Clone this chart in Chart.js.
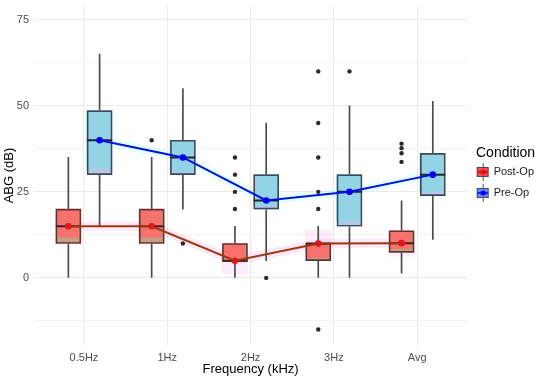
<!DOCTYPE html>
<html>
<head>
<meta charset="utf-8">
<script src="https://cdn.jsdelivr.net/npm/chart.js@4.4.1/dist/chart.umd.min.js"></script>
<style>
html,body{margin:0;padding:0;background:#fff;}
#wrap{width:550px;height:377px;}
</style>
</head>
<body>
<div id="wrap"><canvas id="c" width="550" height="377"></canvas></div>
<script>
// ---- data ----
const categories = ['0.5Hz', '1Hz', '2Hz', '3Hz', 'Avg'];
const yTickValues = [-12.5, 0, 12.5, 25, 37.5, 50, 62.5, 75];

const postLow  = [0, 0, 0, 0, 1.4];
const postQ1   = [10, 10, 4.8, 5, 7.4];
const postMed  = [15, 15, 5, 10, 10.1];
const postQ3   = [20, 20, 10, 10, 13.7];
const postHigh = [35, 35, 15, 15, 22.4];
const postTrend = [15, 15, 5, 10, 10.1];
const postOutliers = [[], [40], [35, 30, 25, 20], [60, 45, 35, 25, 20, -15], [39, 37.7, 36.2, 33.7]];

const preLow  = [15, 20, 5, 0, 11.2];
const preQ1   = [30, 30, 20, 15, 23.9];
const preMed  = [40, 35, 22.5, 25, 30];
const preQ3   = [48.6, 40, 30, 30, 36.2];
const preHigh = [65, 55, 45, 50, 51.3];
const preTrend = [40, 35, 22.5, 25, 30];
const preOutliers = [[], [10], [0], [60], []];

// ---- layout / style ----
const DODGE = 0.1875;
const FONT = "'Liberation Sans', Arial, sans-serif";
const xOf = (i, g) => i + (g === 'post' ? -DODGE : DODGE);

function ranges(lo, hi, g) { return lo.map((v, i) => ({x: xOf(i, g), y: [v, hi[i]]})); }
function overlay(lo, hi, g, frac) { return lo.map((v, i) => ({x: xOf(i, g) - 0.01, y: [v + (hi[i] - v) * frac, hi[i]]})); }
function pts(vals, g) { return vals.map((v, i) => ({x: xOf(i, g), y: v})); }
function outl(list, g) { const r = []; list.forEach((arr, i) => arr.forEach(v => r.push({x: xOf(i, g), y: v}))); return r; }

function glyph(fill, line, dot) {
  const c = document.createElement('canvas');
  c.width = 14; c.height = 18;
  const g = c.getContext('2d');
  g.strokeStyle = '#555'; g.lineWidth = 1;
  g.beginPath(); g.moveTo(7.5, 0); g.lineTo(7.5, 18); g.stroke();
  g.fillStyle = fill; g.fillRect(1, 4, 12, 10);
  g.strokeStyle = '#444'; g.strokeRect(1.5, 4.5, 11, 9);
  g.strokeStyle = line; g.lineWidth = 2;
  g.beginPath(); g.moveTo(1, 9); g.lineTo(13, 9); g.stroke();
  g.fillStyle = dot; g.beginPath(); g.arc(7.5, 9, 2.6, 0, Math.PI * 2); g.fill();
  return c;
}
const postGlyph = glyph('#FF4B4B', '#C0201A', '#E0101A');
const preGlyph = glyph('#6B8EFF', '#1A2AD0', '#0000FF');

const whiskerStyle = {type: 'bar', barThickness: 1, backgroundColor: '#4a4a4a', borderWidth: 0, grouped: false, order: 8};

const datasets = [
  {type: 'line', label: 'postGlow', data: pts(postTrend, 'post'), borderColor: 'rgba(255,150,225,0.22)', borderWidth: 9,
   pointStyle: 'rect', pointRadius: 19, pointBackgroundColor: 'rgba(255,170,235,0.22)', pointBorderWidth: 0, order: 12},
  {type: 'line', label: 'preGlow', data: pts(preTrend, 'pre'), borderColor: 'rgba(170,255,255,0.35)', borderWidth: 8,
   pointRadius: 0, order: 12},
  Object.assign({label: 'postWhisker', data: ranges(postLow, postHigh, 'post')}, whiskerStyle),
  Object.assign({label: 'preWhisker', data: ranges(preLow, preHigh, 'pre')}, whiskerStyle),
  {type: 'bar', label: 'postBoxBase', data: ranges(postQ1, postQ3, 'post'), barThickness: 25, grouped: false,
   backgroundColor: '#C79E84', borderWidth: 0, order: 7},
  {type: 'bar', label: 'postBoxFill', data: overlay(postQ1, postQ3, 'post', 0.18), barThickness: 22, grouped: false,
   backgroundColor: 'rgba(255,105,105,0.85)', borderWidth: 0, order: 6},
  {type: 'bar', label: 'postBoxEdge', data: ranges(postQ1, postQ3, 'post'), barThickness: 25, grouped: false,
   backgroundColor: 'rgba(0,0,0,0)', borderColor: '#5a3535', borderWidth: 1, borderSkipped: false, order: 5},
  {type: 'bar', label: 'preBoxBase', data: ranges(preQ1, preQ3, 'pre'), barThickness: 25, grouped: false,
   backgroundColor: '#B7C6E8', borderWidth: 0, order: 7},
  {type: 'bar', label: 'preBoxFill', data: overlay(preQ1, preQ3, 'pre', 0.1), barThickness: 24, grouped: false,
   backgroundColor: '#93D3E6', borderWidth: 0, order: 6},
  {type: 'bar', label: 'preBoxEdge', data: ranges(preQ1, preQ3, 'pre'), barThickness: 25, grouped: false,
   backgroundColor: 'rgba(0,0,0,0)', borderColor: '#3d4a55', borderWidth: 1, borderSkipped: false, order: 5},
  {type: 'scatter', label: 'postMedian', data: pts(postMed, 'post'), pointStyle: 'line', pointRadius: 12.5,
   pointBorderWidth: 2, pointBorderColor: '#4a1c1c', borderColor: '#4a1c1c', order: 4},
  {type: 'scatter', label: 'preMedian', data: pts(preMed, 'pre'), pointStyle: 'line', pointRadius: 12.5,
   pointBorderWidth: 2, pointBorderColor: '#1c2630', borderColor: '#1c2630', order: 4},
  {type: 'line', label: 'postTrend', data: pts(postTrend, 'post'), borderColor: '#9C3A12', borderWidth: 2,
   pointRadius: 3.3, pointBackgroundColor: '#D9191A', pointBorderWidth: 0, order: 2},
  {type: 'line', label: 'preTrend', data: pts(preTrend, 'pre'), borderColor: '#0A10E0', borderWidth: 2,
   pointRadius: 3.3, pointBackgroundColor: '#0000FF', pointBorderWidth: 0, order: 2},
  {type: 'scatter', label: 'postOut', data: outl(postOutliers, 'post'), pointRadius: 2.2, pointBackgroundColor: '#2b2b2b',
   pointBorderWidth: 0, order: 1},
  {type: 'scatter', label: 'preOut', data: outl(preOutliers, 'pre'), pointRadius: 2.2, pointBackgroundColor: '#2b2b2b',
   pointBorderWidth: 0, order: 1}
];

new Chart(document.getElementById('c'), {
  type: 'bar',
  data: {datasets},
  options: {
    responsive: false,
    devicePixelRatio: 1,
    animation: false,
    layout: {autoPadding: false, padding: {left: 0, right: 6, top: 6, bottom: 0}},
    scales: {
      x: {
        type: 'linear', min: -0.6, max: 4.6, offset: false,
        afterBuildTicks: s => { s.ticks = categories.map((c, i) => ({value: i})); },
        afterFit: s => { s.height = 32; s.paddingLeft = 0; s.paddingRight = 0; },
        ticks: {callback: (v) => categories[v] ?? '', color: '#4d4d4d', font: {family: FONT, size: 11}, padding: 6, maxRotation: 0},
        grid: {color: '#EBEBEB', lineWidth: 1, drawTicks: false, offset: false},
        border: {display: false},
        title: {display: true, text: 'Frequency (kHz)', color: '#000', font: {family: FONT, size: 13}, padding: {top: 0, bottom: 0}}
      },
      y: {
        type: 'linear', min: -19.5, max: 79,
        afterBuildTicks: s => { s.ticks = yTickValues.map(v => ({value: v})); },
        afterFit: s => { s.width = 34; s.paddingTop = 0; s.paddingBottom = 0; },
        ticks: {callback: v => (v % 25 === 0 ? String(v) : ''), color: '#4d4d4d', font: {family: FONT, size: 11}, padding: 5},
        grid: {color: ctx => (ctx.tick && ctx.tick.value % 25 === 0 ? '#EBEBEB' : '#F3F3F3'), lineWidth: 1, drawTicks: false},
        border: {display: false},
        title: {display: true, text: 'ABG (dB)', color: '#000', font: {family: FONT, size: 13}, padding: {top: 2, bottom: 0}}
      }
    },
    plugins: {
      tooltip: {enabled: false},
      legend: {
        position: 'right',
        align: 'center',
        fullSize: false,
        title: {display: true, text: 'Condition', color: '#000', font: {family: FONT, size: 14}, padding: {top: 4, bottom: -7}},
        labels: {
          usePointStyle: true,
          color: '#222',
          font: {family: FONT, size: 11},
          padding: 10,
          generateLabels: () => [
            {text: 'Post-Op', pointStyle: postGlyph, fillStyle: '#FF4B4B', strokeStyle: '#444', lineWidth: 0, hidden: false, datasetIndex: 12, fontColor: '#222'},
            {text: 'Pre-Op', pointStyle: preGlyph, fillStyle: '#6B8EFF', strokeStyle: '#444', lineWidth: 0, hidden: false, datasetIndex: 13, fontColor: '#222'}
          ]
        }
      }
    }
  }
});
</script>
</body>
</html>
